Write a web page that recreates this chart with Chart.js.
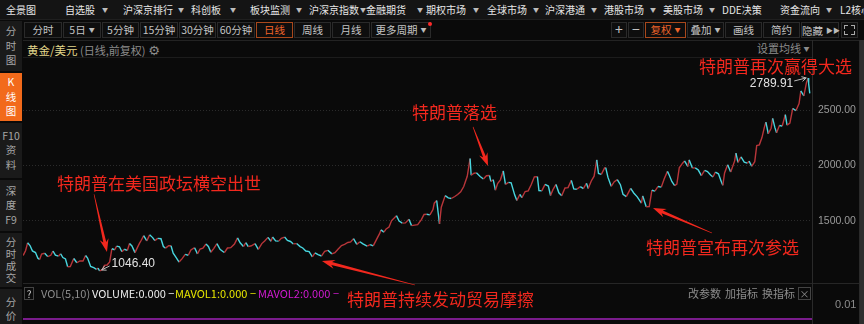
<!DOCTYPE html>
<html><head><meta charset="utf-8">
<script src="https://cdn.jsdelivr.net/npm/chart.js@4.4.1/dist/chart.umd.min.js"></script>
<style>
*{box-sizing:border-box}
html,body{margin:0;padding:0;background:#0a0a0a;width:864px;height:324px;overflow:hidden;font-family:"Noto Sans CJK SC","Noto Sans",sans-serif;}
.a{position:absolute;white-space:nowrap;line-height:1;}
#menu{position:absolute;left:0;top:0;width:864px;height:20px;background:#141414;border-bottom:1px solid #1f1f1f}
#menu span{position:absolute;top:4px;font-size:10px;color:#e6e6e6;line-height:12px;white-space:nowrap}
#menu i{position:absolute;top:6px;font-style:normal;font-size:6px;color:#bdbdbd;line-height:8px}
.tab{position:absolute;top:22px;height:16px;border:1px solid #2a2a2a;background:#0e0e0e;color:#c4c4c4;font-size:10.5px;line-height:14px;text-align:center;white-space:nowrap}
.tab.on{border-color:#a8481c;color:#f0642a}
.tab i{font-style:normal;font-size:6px;vertical-align:2px;margin-left:3px;color:#bbb}
.si{position:absolute;left:0;width:22px;background:#1a1a1a;color:#a6a6a6;font-size:10.5px;display:flex;flex-direction:column;align-items:center;justify-content:center;line-height:14.5px;text-align:center}
.si.on{background:#f26a1b;color:#fff}
.red{position:absolute;color:#f2281e;font-size:17px;line-height:17px;white-space:nowrap}
.g{color:#8c8c8c}
.hl{position:absolute;height:1px}
.vl{position:absolute;width:1px}
</style></head><body>
<div id="menu">
<span style="left:6px">全景图</span>
<span style="left:65px">自选股</span><i style="left:102px">▼</i>
<span style="left:123px">沪深京排行</span><i style="left:178px">▼</i>
<span style="left:191px">科创板</span><i style="left:230px">▼</i>
<span style="left:250px">板块监测</span><i style="left:296px">▼</i>
<span style="left:309px">沪深京指数</span><i style="left:360px">▼</i>
<span style="left:366px">金融期货</span><i style="left:417px">▼</i>
<span style="left:426px">期权市场</span><i style="left:473px">▼</i>
<span style="left:487px">全球市场</span><i style="left:533px">▼</i>
<span style="left:545px">沪深港通</span><i style="left:591px">▼</i>
<span style="left:604px">港股市场</span><i style="left:650px">▼</i>
<span style="left:663px">美股市场</span><i style="left:709px">▼</i>
<span style="left:722px">DDE决策</span>
<span style="left:780px">资金流向</span><i style="left:826px">▼</i>
<span style="left:840px">L2核心</span>
</div>

<div class="tab" style="left:24px;width:38px">分时</div>
<div class="tab" style="left:63px;width:38px">5日<i>▼</i></div>
<div class="tab" style="left:102px;width:37px">5分钟</div>
<div class="tab" style="left:140px;width:38px">15分钟</div>
<div class="tab" style="left:179px;width:37px">30分钟</div>
<div class="tab" style="left:217px;width:38px">60分钟</div>
<div class="tab on" style="left:256px;width:37px">日线</div>
<div class="tab" style="left:294px;width:37px">周线</div>
<div class="tab" style="left:332px;width:38px">月线</div>
<div class="tab" style="left:371px;width:60px">更多周期<i>▼</i></div>
<div class="a" style="left:428px;top:22px;width:4px;height:4px;border-radius:2px;background:#ff2a2a"></div>

<div class="tab" style="left:611px;width:16px;font-size:14px;line-height:13px">+</div>
<div class="tab" style="left:628px;width:16px;font-size:14px;line-height:13px">−</div>
<div class="tab on" style="left:645px;width:41px">复权<i style="color:#f0642a">▼</i></div>
<div class="tab" style="left:687px;width:37px">叠加<i>▼</i></div>
<div class="tab" style="left:725px;width:37px">画线</div>
<div class="tab" style="left:763px;width:37px">简约</div>
<div class="tab" style="left:801px;width:38px">隐藏<i style="font-size:7px">▶▶</i></div>
<div class="tab" style="left:841px;width:17px"></div>
<div class="a" style="left:844px;top:25px;width:4px;height:4px;border-left:1px solid #aaa;border-top:1px solid #aaa"></div>
<div class="a" style="left:851px;top:25px;width:4px;height:4px;border-right:1px solid #aaa;border-top:1px solid #aaa"></div>
<div class="a" style="left:844px;top:31px;width:4px;height:4px;border-left:1px solid #aaa;border-bottom:1px solid #aaa"></div>
<div class="a" style="left:851px;top:31px;width:4px;height:4px;border-right:1px solid #aaa;border-bottom:1px solid #aaa"></div>

<div class="si" style="top:21px;height:50px">分<br>时<br>图</div>
<div class="si on" style="top:73px;height:48px">K<br>线<br>图</div>
<div class="si" style="top:123px;height:55px">F10<br>资<br>料</div>
<div class="si" style="top:180px;height:51px">深<br>度<br>F9</div>
<div class="si" style="top:233px;height:54px;line-height:12px">分<br>时<br>成<br>交</div>
<div class="si" style="top:289px;height:40px">分<br>价</div>

<div class="hl" style="left:23px;top:40px;width:841px;background:#232323"></div>
<div class="hl" style="left:23px;top:57px;width:789px;background:#1c1c1c"></div>
<div class="hl" style="left:23px;top:283px;width:837px;background:#262626"></div>
<div class="vl" style="left:812px;top:40px;height:284px;background:#2a2a2a"></div>
<div class="vl" style="left:859px;top:40px;height:284px;background:#2a2a2a"></div>
<div class="a" style="left:860px;top:40px;width:4px;height:284px;background:#2e2e2e"></div>

<div class="a" style="left:27px;top:44px;font-size:11.5px;color:#e3d88c">黄金/美元 <span class="g" style="font-size:11px">(日线,前复权)</span> <span class="g" style="font-size:13px;font-family:'DejaVu Sans'">⚙</span></div>
<div class="a g" style="left:757px;top:43px;font-size:11px">设置均线 <span style="font-size:6px;vertical-align:2px">▼</span></div>

<div style="position:absolute;left:23px;top:57px;width:837px;height:267px"><canvas id="c" width="837" height="267"></canvas></div>

<div class="a" style="left:24px;top:287px;width:10px;height:13px;border:1px solid #444;color:#ccc;font-size:10px;line-height:11px;text-align:center">?</div>
<div class="a" style="left:41px;top:288px;font-size:11px;color:#8c8c8c">VOL(5,10)</div>
<div class="a" style="left:92px;top:288px;font-size:11px;color:#eeeeee">VOLUME:0.000 −</div>
<div class="a" style="left:175px;top:288px;font-size:11px;color:#e6e600">MAVOL1:0.000 −</div>
<div class="a" style="left:258px;top:288px;font-size:11px;color:#d21ad2">MAVOL2:0.000 −</div>
<div class="a g" style="left:688px;top:288px;font-size:11px">改参数</div>
<div class="a g" style="left:725px;top:288px;font-size:11px">加指标</div>
<div class="a g" style="left:762px;top:288px;font-size:11px">换指标</div>
<div class="a" style="left:798px;top:287px;width:13px;height:13px;border:1px solid #444;color:#888;font-size:10px;line-height:11px;text-align:center">×</div>
<div class="a g" style="left:835px;top:299px;font-size:11px;font-family:'Liberation Sans'">0.01</div>
<div class="hl" style="left:23px;top:318px;width:789px;height:2px;background:#7a1c8c"></div>

<div class="red" style="left:57px;top:174px">特朗普在美国政坛横空出世</div>
<div class="red" style="left:347px;top:290px">特朗普持续发动贸易摩擦</div>
<div class="red" style="left:646px;top:238px">特朗普宣布再次参选</div>
<div class="red" style="left:412px;top:103px">特朗普落选</div>
<div class="red" style="left:699px;top:57px">特朗普再次赢得大选</div>

<script>
const dates = [
// 2015
'2015-01-02','2015-01-13','2015-01-22','2015-02-02','2015-02-13','2015-02-27','2015-03-10','2015-03-18','2015-03-27','2015-04-10','2015-04-24','2015-05-08','2015-05-18','2015-05-29','2015-06-12','2015-06-22','2015-07-02','2015-07-14','2015-07-24','2015-08-05','2015-08-21','2015-09-04','2015-09-18','2015-10-02','2015-10-14','2015-10-23','2015-11-06','2015-11-20','2015-12-03','2015-12-10','2015-12-17','2015-12-31',
// 2016
'2016-01-08','2016-01-20','2016-02-01','2016-02-11','2016-02-24','2016-03-04','2016-03-17','2016-03-28','2016-04-08','2016-04-22','2016-05-02','2016-05-13','2016-05-27','2016-06-08','2016-06-17','2016-06-24','2016-07-06','2016-07-20','2016-08-02','2016-08-16','2016-08-26','2016-09-08','2016-09-23','2016-10-04','2016-10-14','2016-10-28','2016-11-08','2016-11-18','2016-12-01','2016-12-15','2016-12-29',
// 2017
'2017-01-12','2017-01-26','2017-02-07','2017-02-24','2017-03-09','2017-03-21','2017-04-03','2017-04-17','2017-04-28','2017-05-09','2017-05-23','2017-06-06','2017-06-20','2017-07-03','2017-07-10','2017-07-24','2017-08-08','2017-08-25','2017-09-08','2017-09-20','2017-10-05','2017-10-16','2017-10-27','2017-11-10','2017-11-27','2017-12-12','2017-12-28',
// 2018
'2018-01-10','2018-01-25','2018-02-08','2018-02-15','2018-03-01','2018-03-15','2018-03-27','2018-04-11','2018-04-24','2018-05-08','2018-05-21','2018-06-05','2018-06-21','2018-07-03','2018-07-17','2018-08-01','2018-08-16','2018-08-28','2018-09-11','2018-09-27','2018-10-11','2018-10-26','2018-11-13','2018-11-27','2018-12-11','2018-12-27',
// 2019
'2019-01-10','2019-01-25','2019-02-07','2019-02-20','2019-03-07','2019-03-21','2019-04-04','2019-04-23','2019-05-07','2019-05-21','2019-06-04','2019-06-20','2019-06-25','2019-07-09','2019-07-19','2019-08-01','2019-08-13','2019-08-26','2019-09-04','2019-09-16','2019-10-01','2019-10-15','2019-10-31','2019-11-12','2019-11-26','2019-12-10','2019-12-27',
// 2020
'2020-01-08','2020-01-20','2020-02-04','2020-02-18','2020-02-24','2020-03-06','2020-03-19','2020-03-27','2020-04-14','2020-04-28','2020-05-12','2020-05-28','2020-06-10','2020-06-24','2020-07-08','2020-07-24','2020-08-06','2020-08-11','2020-08-24','2020-09-04','2020-09-21','2020-10-06','2020-10-20','2020-11-03','2020-11-09','2020-11-20','2020-11-30','2020-12-10','2020-12-23',
// 2021
'2021-01-05','2021-01-15','2021-01-29','2021-02-10','2021-02-26','2021-03-08','2021-03-22','2021-03-31','2021-04-15','2021-04-29','2021-05-13','2021-05-27','2021-06-10','2021-06-17','2021-06-30','2021-07-15','2021-07-30','2021-08-09','2021-08-20','2021-09-03','2021-09-16','2021-09-29','2021-10-14','2021-10-28','2021-11-12','2021-11-23','2021-12-07','2021-12-23',
// 2022
'2022-01-06','2022-01-20','2022-01-28','2022-02-11','2022-02-24','2022-03-08','2022-03-16','2022-03-29','2022-04-13','2022-04-18','2022-04-28','2022-05-13','2022-05-27','2022-06-10','2022-06-24','2022-07-06','2022-07-21','2022-08-10','2022-08-24','2022-09-09','2022-09-28','2022-10-04','2022-10-20','2022-11-03','2022-11-15','2022-11-29','2022-12-13','2022-12-28',
// 2023
'2023-01-10','2023-01-25','2023-02-02','2023-02-14','2023-02-27','2023-03-09','2023-03-20','2023-04-04','2023-04-13','2023-04-28','2023-05-04','2023-05-19','2023-06-01','2023-06-15','2023-06-29','2023-07-14','2023-07-27','2023-08-10','2023-08-21','2023-09-01','2023-09-15','2023-09-29','2023-10-05','2023-10-13','2023-10-27','2023-11-10','2023-11-28','2023-12-04','2023-12-13','2023-12-27',
// 2024
'2024-01-11','2024-01-25','2024-02-02','2024-02-14','2024-02-28','2024-03-08','2024-03-20','2024-04-01','2024-04-12','2024-04-19','2024-04-30','2024-05-13','2024-05-20','2024-05-30','2024-06-07','2024-06-20','2024-07-03','2024-07-17','2024-07-25','2024-08-07','2024-08-20','2024-09-04','2024-09-18','2024-09-26','2024-10-10','2024-10-22','2024-10-30','2024-11-01','2024-11-06'
];
const closes = [
// 2015
1186,1232,1301,1276,1228,1213,1162,1151,1199,1207,1176,1188,1227,1190,1180,1202,1168,1155,1085,1086,1159,1121,1137,1137,1186,1163,1088,1076,1062,1072,1046.40,1061,
// 2016
1097,1100,1128,1247,1238,1271,1265,1220,1243,1232,1295,1273,1212,1262,1298,1322,1366,1318,1373,1348,1321,1341,1338,1268,1253,1275,1275,1207,1170,1127,1158,
// 2017
1196,1189,1236,1257,1201,1245,1253,1290,1268,1216,1251,1293,1242,1223,1213,1254,1257,1290,1346,1301,1267,1303,1266,1274,1294,1242,1294,
// 2018
1318,1350,1315,1353,1318,1316,1342,1353,1323,1313,1291,1294,1267,1254,1227,1222,1174,1211,1195,1182,1223,1233,1201,1211,1243,1276,
// 2019
1287,1304,1309,1339,1287,1311,1291,1271,1284,1273,1328,1388,1418,1397,1426,1443,1502,1527,1546,1498,1479,1481,1513,1456,1461,1465,1511,
// 2020
1557,1559,1553,1601,1659,1683,1472,1622,1727,1707,1701,1719,1737,1761,1809,1902,2062,1911,1929,1933,1900,1877,1907,1909,1855,1871,1776,1836,1870,
// 2021
1950,1828,1847,1842,1734,1683,1738,1708,1764,1770,1827,1897,1898,1773,1770,1829,1814,1728,1781,1828,1753,1726,1796,1799,1865,1788,1785,1808,
// 2022
1790,1839,1791,1859,1903,2050,1927,1919,1977,1980,1894,1811,1853,1871,1826,1739,1718,1792,1751,1716,1660,1725,1627,1629,1776,1768,1810,1804,
// 2023
1877,1946,1913,1855,1817,1831,1979,2020,2040,1990,2050,1977,1978,1958,1908,1955,1945,1913,1895,1940,1924,1848,1820,1932,2006,1940,2041,2110,2027,2077,
// 2024
2029,2020,2039,1992,2034,2179,2186,2251,2344,2391,2286,2336,2425,2343,2294,2360,2356,2458,2364,2382,2514,2495,2559,2672,2628,2749,2789.91,2736,2650
];
const yTicks = [1500, 2000, 2500];
// annotation arrows: [decimal year, price] of tail and tip
const arrowTails = [[2015.889,1740],[2019.906,920],[2023.623,1389],[2020.632,2347]];
const arrowTips  = [[2016.051,1218],[2018.742,1136],[2022.885,1615],[2020.820,1994]];

const UP = '#b8363a', DOWN = '#48d6df';
function toYear(s){
  const [y,m,d] = s.split('-').map(Number);
  const start = Date.UTC(y,0,1), end = Date.UTC(y+1,0,1);
  return y + (Date.UTC(y,m-1,d)-start)/(end-start);
}
const pts = dates.map((d,i)=>({x:toYear(d), y:closes[i]}));

function drawArrow(ctx,x1,y1,x2,y2,color){
  const ang=Math.atan2(y2-y1,x2-x1), len=Math.hypot(x2-x1,y2-y1);
  const hl=13, hw=9, sw=3;
  ctx.save(); ctx.translate(x1,y1); ctx.rotate(ang);
  ctx.fillStyle=color; ctx.beginPath();
  ctx.moveTo(0,-0.3);
  ctx.lineTo(len-hl+3,-sw/2);
  ctx.lineTo(len-hl,-hw/2);
  ctx.lineTo(len,0);
  ctx.lineTo(len-hl,hw/2);
  ctx.lineTo(len-hl+3,sw/2);
  ctx.lineTo(0,0.3);
  ctx.closePath(); ctx.fill(); ctx.restore();
}
function smallArrow(ctx,x1,y1,x2,y2,color){
  const ang=Math.atan2(y2-y1,x2-x1);
  ctx.save(); ctx.strokeStyle=color; ctx.lineWidth=1;
  ctx.beginPath(); ctx.moveTo(x1,y1); ctx.lineTo(x2,y2);
  ctx.moveTo(x2,y2); ctx.lineTo(x2-5*Math.cos(ang-0.5),y2-5*Math.sin(ang-0.5));
  ctx.moveTo(x2,y2); ctx.lineTo(x2-5*Math.cos(ang+0.5),y2-5*Math.sin(ang+0.5));
  ctx.stroke(); ctx.restore();
}
const annot = {
  id:'annot',
  afterDraw(chart){
    const {ctx, scales:{x,y}} = chart;
    arrowTails.forEach((t,i)=>{
      const p=arrowTips[i];
      drawArrow(ctx, x.getPixelForValue(t[0]), y.getPixelForValue(t[1]), x.getPixelForValue(p[0]), y.getPixelForValue(p[1]), '#f2281e');
    });
    let iMin=0,iMax=0;
    closes.forEach((v,i)=>{ if(v<closes[iMin]) iMin=i; if(v>closes[iMax]) iMax=i; });
    ctx.save();
    ctx.font='12px "Liberation Sans", sans-serif';
    ctx.fillStyle='#e2e2e2'; ctx.textBaseline='middle';
    const mnx=x.getPixelForValue(pts[iMin].x), mny=y.getPixelForValue(pts[iMin].y);
    ctx.textAlign='left'; ctx.fillText(closes[iMin].toFixed(2), mnx+12, mny-7);
    smallArrow(ctx, mnx+10, mny-5, mnx+2, mny-1, '#bbbbbb');
    const mxx=x.getPixelForValue(pts[iMax].x), mxy=y.getPixelForValue(pts[iMax].y);
    ctx.textAlign='right'; ctx.fillText(closes[iMax].toFixed(2), mxx-15, mxy+6);
    smallArrow(ctx, mxx-14, mxy+3, mxx-2, mxy, '#bbbbbb');
    ctx.restore();
  }
};

new Chart(document.getElementById('c'), {
  type:'line',
  data:{datasets:[{data:pts, borderWidth:1.4, pointRadius:0, tension:0, borderColor:DOWN,
    segment:{borderColor:c=>c.p1.parsed.y>=c.p0.parsed.y?UP:DOWN}}]},
  options:{
    responsive:false, animation:false,
    layout:{padding:{left:0,right:0,top:0,bottom:41}},
    plugins:{legend:{display:false}, tooltip:{enabled:false}},
    scales:{
      x:{type:'linear', min:2015.0, max:2024.875, display:false},
      y:{position:'right', min:938, max:2979,
        afterBuildTicks:s=>{ s.ticks = yTicks.map(v=>({value:v})); },
        afterFit:s=>{ s.width=48; s.paddingTop=0; s.paddingBottom=0; },
        grid:{color:'#2b2b2b', drawTicks:false, lineWidth:1},
        border:{display:false, dash:[1,2]},
        ticks:{color:'#9a9a9a', padding:6, font:{size:10.5, family:'"Liberation Sans"'}, callback:v=>v.toFixed(2)}
      }
    }
  },
  plugins:[annot]
});
</script>
</body></html>
